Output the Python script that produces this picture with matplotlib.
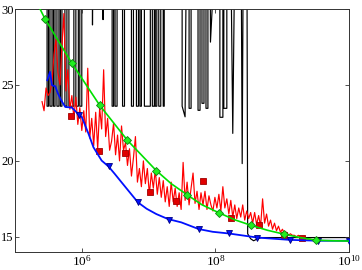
import numpy as np
import matplotlib
matplotlib.use("Agg")
import matplotlib.pyplot as plt
from matplotlib.ticker import FixedLocator, LogFormatterMathtext

plt.rcParams["font.family"] = ["Liberation Serif", "DejaVu Serif"]
plt.rcParams["mathtext.fontset"] = "stix"

# Black trace: log10(x) and y (40 = far above the axis top)
black_exp = [5.40, 5.480, 5.480, 5.502, 5.502, 5.524, 5.524, 5.554, 5.554, 5.576, 5.576,
             5.599, 5.599, 5.628, 5.628, 5.658, 5.658, 5.680, 5.680, 5.703, 5.703, 5.747,
             5.747, 5.777, 5.777, 5.807, 5.807, 5.881, 5.881, 5.911, 5.911, 5.948, 5.948,
             5.970, 5.970, 6.000, 6.000, 6.149, 6.160, 6.178, 6.312, 6.318, 6.327, 6.454,
             6.454, 6.476, 6.476, 6.498, 6.498, 6.528, 6.528, 6.610, 6.610, 6.639, 6.639,
             6.743, 6.743, 6.773, 6.773, 6.818, 6.818, 6.848, 6.848, 6.870, 6.870, 6.892,
             6.892, 6.937, 6.937, 7.026, 7.026, 7.056, 7.056, 7.086, 7.086, 7.100, 7.100,
             7.123, 7.123, 7.152, 7.152, 7.182, 7.182, 7.219, 7.219, 7.234, 7.234, 7.502,
             7.502, 7.546, 7.576, 7.606, 7.606, 7.636, 7.636, 7.740, 7.740, 7.770, 7.770,
             7.799, 7.799, 7.829, 7.829, 7.859, 7.859, 7.888, 7.888, 7.918, 7.926, 8.067,
             8.067, 8.112, 8.112, 8.126, 8.126, 8.171, 8.171, 8.216, 8.260, 8.305, 8.379,
             8.401, 8.424, 8.468, 8.483, 8.528, 8.572, 8.632, 8.691, 10.0]
black_y = [40, 40, 23.6, 23.6, 40, 40, 23.6, 23.6, 40, 40, 23.6,
           23.6, 40, 40, 23.6, 23.6, 40, 40, 23.6, 23.6, 40, 40,
           23.6, 23.6, 40, 40, 23.6, 23.6, 40, 40, 23.6, 23.6, 40,
           40, 23.6, 23.6, 40, 40, 28.95, 40, 40, 29.3, 40, 40,
           23.6, 23.6, 40, 40, 23.6, 23.6, 40, 40, 23.6, 23.6, 40,
           40, 23.6, 23.6, 40, 40, 23.6, 23.6, 40, 40, 23.6, 23.6,
           40, 40, 23.6, 23.6, 40, 40, 23.6, 23.6, 40, 40, 23.6,
           23.6, 40, 40, 23.6, 23.6, 40, 40, 23.6, 23.6, 40, 40,
           23.6, 22.9, 40, 40, 23.46, 23.46, 40, 40, 23.33, 23.33, 40,
           40, 23.79, 23.79, 40, 40, 23.46, 23.46, 40, 40, 27.82, 40,
           22.87, 22.87, 40, 40, 23.46, 23.46, 40, 40, 21.81, 40, 40,
           19.82, 40, 40, 15.2, 14.87, 14.74, 14.87, 14.95, 14.95]

# Red noisy trace (sampled on an even log grid from 10^5.405 to 10^9.569)
red_y = [23.9, 23.3, 24.8, 24.3, 24.5, 25.2, 27.0, 28.0, 25.8, 25.0,
         27.6, 29.7, 24.6, 26.0, 23.4, 24.3, 22.8, 24.2, 22.4, 23.5,
         22.0, 23.3, 21.9, 26.1, 21.5, 22.8, 21.0, 23.2, 20.8, 23.5,
         22.1, 26.0, 21.6, 22.8, 20.7, 21.3, 22.5, 20.4, 21.7, 20.0,
         22.3, 20.7, 21.2, 19.7, 20.8, 19.0, 20.2, 21.6, 18.6, 19.5,
         18.3, 20.0, 18.5, 19.5, 17.8, 19.2, 18.2, 19.4, 17.8, 18.9,
         17.6, 18.7, 17.3, 18.3, 17.0, 18.6, 17.3, 18.2, 17.0, 17.9,
         16.8, 19.9, 17.4, 18.6, 17.1, 18.2, 19.2, 17.2, 18.0, 16.8,
         17.9, 17.1, 18.0, 16.8, 17.7, 17.1, 16.7, 17.6, 16.9, 17.8,
         16.7, 18.3, 16.9, 17.5, 16.5, 17.4, 16.3, 17.1, 16.2, 16.9,
         16.3, 17.1, 16.1, 16.7, 16.2, 16.6, 15.9, 16.6, 15.8, 16.4,
         15.7, 17.5, 15.9, 16.5, 15.7, 16.1, 15.5, 15.9, 15.4, 15.7,
         15.3, 15.5, 15.2, 15.3, 15.1, 15.2, 15.1, 15.1, 15.0, 15.1,
         14.9, 14.9, 14.9, 14.85, 14.85, 14.85, 14.8, 14.8, 14.8, 14.8, 14.8]
red_exp = np.linspace(5.405, 9.569, len(red_y))
red_mark_exp = [5.84, 6.25, 6.64, 7.02, 7.41, 7.82, 8.24, 8.65, 9.02, 9.30]
red_mark_y = [22.93, 20.68, 20.53, 17.97, 17.33, 18.7, 16.24, 15.77, 15.15, 14.93]

# Blue trace
blue_exp = [5.484, 5.524, 5.554, 5.603, 5.643, 5.692, 5.752, 5.851, 5.941, 6.0,
            6.10, 6.174, 6.297, 6.40, 6.49, 6.595, 6.71, 6.84, 6.97, 7.115,
            7.29, 7.49, 7.75, 7.96, 8.20, 8.63, 9.11, 9.54, 10.0]
blue_y = [25.31, 25.86, 24.98, 24.91, 24.43, 23.99, 23.55, 23.51, 23.11, 22.89,
          21.79, 20.9, 20.02, 19.63, 19.16, 18.59, 17.97, 17.27, 16.85, 16.5,
          16.17, 15.95, 15.51, 15.33, 15.22, 14.95, 14.8, 14.74, 14.74]
blue_mark_exp = [5.955, 6.40, 6.84, 7.30, 7.75, 8.20, 8.63, 9.11, 9.54, 10.0]
blue_mark_y = [23.03, 19.63, 17.27, 16.12, 15.51, 15.22, 14.95, 14.8, 14.74, 14.74]

# Green trace
green_exp = [5.375, 5.450, 5.851, 6.268, 6.684, 7.115, 7.338, 7.572, 7.799, 8.048,
             8.29, 8.538, 8.78, 9.023, 9.27, 9.509, 9.75, 10.0]
green_y = [30.0, 29.34, 26.43, 23.66, 21.35, 19.36, 18.5, 17.78, 17.11, 16.59,
           16.12, 15.75, 15.43, 15.18, 14.95, 14.78, 14.74, 14.72]
green_mark_exp = [5.450, 5.851, 6.268, 6.684, 7.115, 7.572, 8.048, 8.538, 9.023, 9.509]
green_mark_y = [29.34, 26.43, 23.66, 21.35, 19.36, 17.78, 16.59, 15.75, 15.18, 14.78]

fig = plt.figure(figsize=(3.62, 2.70), dpi=100)
ax = fig.add_axes([15 / 362, 18 / 270, 334 / 362, 243 / 270])

ax.plot(10 ** np.array(black_exp), black_y, color="black", lw=0.85, zorder=1)
ax.plot(10 ** red_exp, red_y, color="#ff0000", lw=0.85, zorder=2)
ax.plot(10 ** np.array(red_mark_exp), red_mark_y, "s", ms=4.2, mfc="#e00000",
        mec="#a00000", mew=0.6, zorder=2)
ax.plot(10 ** np.array(blue_exp), blue_y, color="#0010ff", lw=1.3, zorder=3)
ax.plot(10 ** np.array(blue_mark_exp), blue_mark_y, "v", ms=5, mfc="#0010ff",
        mec="#000080", mew=0.6, zorder=3)
ax.plot(10 ** np.array(green_exp), green_y, color="#00e000", lw=1.2, zorder=4)
ax.plot(10 ** np.array(green_mark_exp), green_mark_y, "D", ms=4.2, mfc="#20f020",
        mec="#108010", mew=0.6, zorder=4)

ax.set_xscale("log")
ax.set_xlim(1e5, 1e10)
ax.set_ylim(14, 30)
ax.xaxis.set_major_locator(FixedLocator([1e6, 1e8, 1e10]))
ax.xaxis.set_minor_locator(FixedLocator([]))
ax.xaxis.set_major_formatter(LogFormatterMathtext())
ax.set_yticks([15, 20, 25, 30])
ax.tick_params(direction="in", length=3, width=0.6, top=True, right=True,
               color="#333333")
ax.tick_params(axis="y", labelsize=9, pad=1)
ax.tick_params(axis="x", labelsize=9.5, pad=1.5)
for s in ax.spines.values():
    s.set_linewidth(0.7)
    s.set_color("#333333")

fig.savefig("out.png", dpi=100)
